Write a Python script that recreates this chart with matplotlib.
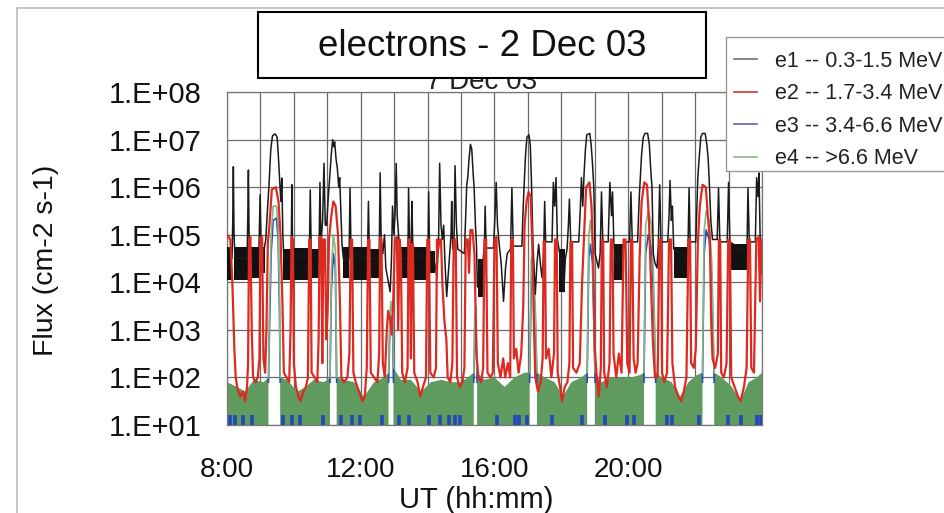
import numpy as np
import matplotlib.pyplot as plt
from matplotlib.lines import Line2D
from matplotlib.patches import Rectangle
from matplotlib.ticker import LogLocator, NullFormatter, MultipleLocator

plt.rcParams['font.family'] = ['Liberation Sans', 'DejaVu Sans']

# ---- data: time in hours UT, flux as log10(cm-2 s-1) ----
e1_t = [8.00, 8.15, 8.17, 8.19, 8.21, 8.24, 8.60, 8.62, 8.64, 8.66, 8.69, 8.95, 8.97, 8.99, 9.02,
        9.09, 9.16, 9.20, 9.26, 9.31, 9.36, 9.44, 9.50, 9.54, 9.57, 9.61, 9.64, 9.67, 9.70, 9.92,
        9.94, 9.96, 10.46, 10.49, 10.52, 10.75, 10.78, 10.81, 10.86, 10.90, 10.94, 10.98, 11.03,
        11.08, 11.12, 11.16, 11.19, 11.22, 11.26, 11.30, 11.34, 11.37, 11.40, 11.44, 11.48, 11.65,
        11.68, 11.71, 12.20, 12.23, 12.26, 12.55, 12.58, 12.61, 12.66, 12.71, 12.75, 12.83, 12.88,
        12.92, 12.95, 12.99, 13.03, 13.06, 13.09, 13.13, 13.18, 13.41, 13.43, 13.46, 13.51, 13.53,
        13.56, 14.01, 14.03, 14.06, 14.15, 14.24, 14.28, 14.33, 14.36, 14.40, 14.44, 14.48, 14.52,
        14.57, 14.62, 14.66, 14.70, 14.72, 14.75, 14.79, 14.82, 14.86, 14.90, 15.10, 15.14, 15.17,
        15.20, 15.24, 15.28, 15.32, 15.36, 15.39, 15.43, 15.46, 15.49, 15.55, 15.65, 15.70, 15.72,
        15.75, 15.97, 16.02, 16.05, 16.09, 16.14, 16.20, 16.27, 16.33, 16.38, 16.48, 16.52, 16.56,
        16.82, 16.86, 16.89, 16.93, 16.97, 17.03, 17.07, 17.11, 17.15, 17.19, 17.22, 17.27, 17.32,
        17.37, 17.42, 17.47, 17.50, 17.53, 17.72, 17.76, 17.80, 17.84, 17.88, 17.95, 18.02, 18.07,
        18.12, 18.17, 18.21, 18.24, 18.28, 18.52, 18.57, 18.60, 18.64, 18.68, 18.72, 18.76, 18.85,
        18.89, 18.93, 18.97, 19.01, 19.11, 19.16, 19.20, 19.24, 19.40, 19.45, 19.50, 19.53, 19.57,
        19.62, 19.78, 19.90, 20.04, 20.08, 20.12, 20.28, 20.33, 20.36, 20.40, 20.45, 20.50, 20.58,
        20.63, 20.67, 20.71, 20.75, 20.80, 20.86, 20.90, 20.94, 20.98, 21.18, 21.22, 21.25, 21.29,
        21.32, 21.36, 21.78, 21.82, 21.85, 22.02, 22.06, 22.08, 22.12, 22.17, 22.22, 22.30, 22.35,
        22.39, 22.43, 22.47, 22.52, 22.66, 22.70, 22.74, 22.96, 23.00, 23.04, 23.55, 23.58, 23.62,
        23.80, 23.84, 23.88, 23.91, 23.95, 24.00]
e1_v = [4.5, 4.5, 5.2, 6.43, 5.0, 4.5, 4.5, 5.3, 6.36, 5.0, 4.5, 4.5, 5.2, 5.84, 4.8,
        4.6, 4.9, 5.4, 6.1, 6.8, 7.08, 7.12, 7.05, 6.6, 6.2, 5.7, 6.19, 5.0, 4.5, 4.5,
        6.05, 4.6, 4.5, 5.94, 4.6, 4.5, 6.1, 4.8, 5.3, 6.5, 5.2, 5.2, 5.8,
        6.3, 6.7, 7.0, 6.85, 6.95, 6.6, 6.4, 6.0, 6.2, 5.6, 4.8, 4.5, 4.5,
        5.98, 4.6, 4.5, 5.7, 4.5, 4.5, 6.3, 4.9, 4.6, 5.0, 4.3, 4.0, 3.8,
        4.5, 5.6, 5.0, 5.5, 6.5, 5.4, 5.0, 4.5, 4.5, 5.98, 4.8, 4.8, 5.7,
        4.6, 4.5, 5.9, 4.6, 4.6, 4.3, 4.1, 5.0, 6.5, 5.2, 4.9, 5.2, 4.4,
        3.7, 4.2, 4.6, 5.0, 5.7, 4.7, 4.9, 6.45, 5.2, 4.7, 4.6, 5.4, 6.05,
        6.2, 6.6, 6.9, 6.8, 6.3, 6.0, 5.2, 4.8, 3.9, 4.4, 4.4, 4.8, 5.6,
        4.72, 4.72, 5.5, 6.1, 5.2, 4.8, 4.4, 3.6, 4.3, 4.6, 4.7, 5.98, 4.76,
        4.76, 5.6, 6.1, 6.7, 7.05, 7.1, 6.9, 6.0, 4.8, 4.2, 3.75, 4.4, 4.8,
        4.4, 4.1, 4.6, 5.7, 4.85, 4.85, 6.1, 5.6, 6.2, 4.9, 4.6, 4.2, 3.8,
        4.5, 4.7, 5.2, 5.75, 4.85, 4.85, 5.6, 6.2, 5.6, 6.3, 6.8, 7.1, 7.13,
        6.9, 6.5, 6.0, 4.6, 4.3, 4.6, 5.9, 4.85, 4.85, 6.1, 5.4, 5.9, 4.8,
        4.4, 4.5, 4.85, 4.85, 5.9, 4.85, 4.85, 5.8, 6.2, 6.7, 7.05, 7.13, 7.13,
        6.9, 6.4, 6.0, 4.6, 4.4, 4.3, 4.8, 6.05, 4.85, 4.85, 5.4, 6.14, 5.3,
        5.6, 4.7, 4.5, 5.98, 4.85, 4.85, 5.8, 6.2, 6.6, 7.05, 7.13, 7.13, 6.9,
        6.6, 6.0, 5.3, 4.9, 4.9, 5.98, 4.85, 4.85, 6.1, 4.85, 4.6, 5.98, 4.85,
        4.85, 6.2, 5.8, 6.3, 4.7, 4.3]

# spans where e1 is a dense noisy band: start, end, low, high (log10)
e1_noise_t0 = [8.00, 8.22, 8.67, 9.02, 9.68, 9.96, 10.52, 11.46, 11.71, 12.26, 13.15, 13.57, 14.06, 15.50, 17.92, 19.58, 21.36, 23.08]
e1_noise_t1 = [8.16, 8.62, 8.97, 9.15, 9.92, 10.46, 10.76, 11.66, 12.21, 12.56, 13.41, 14.01, 14.22, 15.68, 18.12, 19.88, 21.78, 23.54]
e1_noise_lo = [4.05, 4.05, 4.10, 4.20, 4.05, 4.05, 4.10, 4.10, 4.05, 4.10, 4.10, 4.05, 4.20, 3.70, 3.80, 4.05, 4.10, 4.25]
e1_noise_hi = [4.75, 4.75, 4.75, 4.75, 4.70, 4.72, 4.70, 4.75, 4.75, 4.70, 4.75, 4.75, 4.65, 4.50, 4.70, 4.80, 4.75, 4.80]

e2_t = [8.00, 8.10, 8.16, 8.22, 8.26, 8.32, 8.40, 8.48, 8.54, 8.60, 8.63, 8.66, 8.70, 8.74, 8.78,
        8.85, 8.92, 8.97, 9.00, 9.05, 9.09, 9.14, 9.18, 9.22, 9.28, 9.34, 9.46, 9.54, 9.60, 9.66,
        9.70, 9.78, 9.86, 9.90, 9.93, 9.97, 10.00, 10.06, 10.14, 10.20, 10.28, 10.36, 10.42, 10.46,
        10.50, 10.53, 10.62, 10.70, 10.74, 10.77, 10.82, 10.85, 10.88, 10.93, 10.97, 11.01, 11.05,
        11.12, 11.18, 11.25, 11.32, 11.38, 11.42, 11.50, 11.60, 11.66, 11.70, 11.74, 11.78, 11.85,
        11.95, 12.05, 12.12, 12.18, 12.22, 12.26, 12.30, 12.40, 12.50, 12.55, 12.58, 12.62, 12.66,
        12.72, 12.78, 12.82, 12.88, 12.93, 12.97, 13.02, 13.08, 13.12, 13.16, 13.20, 13.24, 13.32,
        13.40, 13.43, 13.47, 13.50, 13.53, 13.56, 13.60, 13.70, 13.78, 13.86, 13.95, 13.99, 14.04,
        14.08, 14.18, 14.25, 14.28, 14.32, 14.36, 14.40, 14.44, 14.50, 14.56, 14.60, 14.68, 14.74,
        14.78, 14.84, 14.88, 14.96, 15.04, 15.10, 15.14, 15.20, 15.24, 15.28, 15.34, 15.40, 15.46,
        15.52, 15.60, 15.66, 15.70, 15.75, 15.79, 15.88, 15.95, 16.00, 16.06, 16.10, 16.18, 16.26,
        16.32, 16.40, 16.47, 16.50, 16.55, 16.58, 16.65, 16.72, 16.80, 16.86, 16.90, 16.96, 17.02,
        17.08, 17.13, 17.18, 17.22, 17.30, 17.38, 17.44, 17.47, 17.51, 17.54, 17.62, 17.70, 17.78,
        17.81, 17.86, 17.89, 17.96, 18.02, 18.10, 18.18, 18.24, 18.27, 18.32, 18.35, 18.45, 18.55,
        18.62, 18.68, 18.74, 18.84, 18.90, 18.95, 19.00, 19.06, 19.12, 19.18, 19.21, 19.25, 19.28,
        19.36, 19.44, 19.48, 19.53, 19.56, 19.64, 19.72, 19.80, 19.86, 19.92, 19.97, 20.04, 20.08,
        20.12, 20.16, 20.22, 20.28, 20.34, 20.40, 20.48, 20.56, 20.62, 20.68, 20.74, 20.80, 20.88,
        20.93, 20.98, 21.01, 21.08, 21.16, 21.22, 21.28, 21.32, 21.40, 21.50, 21.58, 21.66, 21.74,
        21.80, 21.85, 21.88, 21.96, 22.02, 22.08, 22.14, 22.22, 22.32, 22.38, 22.44, 22.48, 22.52,
        22.60, 22.68, 22.71, 22.75, 22.78, 22.86, 22.94, 22.99, 23.04, 23.08, 23.18, 23.28, 23.36,
        23.46, 23.54, 23.59, 23.64, 23.68, 23.76, 23.83, 23.90, 23.94, 23.98, 24.00]
e2_v = [5.0, 4.9, 4.0, 2.6, 2.0, 1.75, 1.6, 1.7, 1.5, 1.8, 2.3, 4.9, 4.95, 3.0, 2.0,
        1.9, 2.0, 2.4, 4.95, 4.95, 2.4, 2.1, 3.0, 4.8, 5.3, 5.95, 6.0, 5.7, 5.0, 3.5,
        2.1, 2.0, 1.9, 3.0, 4.95, 4.9, 2.3, 1.8, 1.6, 1.5, 1.7, 1.8, 2.0, 4.9,
        4.9, 2.1, 2.0, 1.9, 2.8, 4.95, 4.95, 2.3, 4.9, 4.9, 2.8, 3.4, 4.9,
        5.4, 5.7, 5.6, 5.0, 3.5, 2.0, 1.9, 2.0, 2.5, 4.9, 4.9, 2.1, 1.9,
        1.7, 1.5, 1.6, 2.2, 4.9, 4.9, 2.1, 2.0, 1.9, 2.5, 4.95, 4.9, 2.3,
        2.0, 3.0, 3.4, 3.2, 2.9, 3.6, 4.9, 4.95, 3.0, 4.9, 4.6, 2.1, 1.9,
        2.2, 4.9, 4.9, 2.4, 4.8, 4.8, 2.1, 1.9, 1.6, 1.8, 2.0, 4.9, 4.9,
        2.1, 2.0, 2.2, 4.9, 4.7, 4.9, 4.9, 4.0, 3.2, 2.8, 2.0, 1.9, 2.3,
        4.9, 4.9, 2.0, 1.8, 1.9, 2.2, 4.9, 4.9, 4.2, 5.1, 5.1, 4.6, 2.5,
        2.0, 1.9, 2.2, 4.9, 4.9, 2.1, 2.0, 2.1, 4.9, 4.95, 2.3, 2.0, 2.4,
        2.0, 2.3, 2.0, 4.9, 4.9, 2.4, 2.6, 2.1, 2.5, 3.5, 5.2, 5.7, 5.9,
        5.8, 4.8, 3.1, 2.0, 1.7, 1.9, 2.4, 4.85, 4.85, 2.4, 2.6, 2.0, 2.5,
        4.9, 4.9, 2.1, 1.8, 1.5, 1.8, 1.9, 2.3, 4.85, 4.85, 2.2, 2.1, 2.3,
        4.0, 5.0, 6.0, 6.1, 5.6, 4.6, 2.6, 2.0, 1.6, 2.2, 4.9, 4.9, 2.1,
        1.8, 2.3, 4.9, 4.9, 2.5, 2.0, 2.5, 2.1, 4.9, 4.9, 2.3, 2.1, 4.9,
        4.9, 2.4, 2.1, 2.3, 4.5, 5.7, 6.1, 6.05, 5.3, 4.0, 2.7, 2.0, 2.0,
        4.9, 4.9, 2.1, 1.9, 2.1, 4.9, 4.9, 2.3, 1.8, 1.6, 1.5, 1.7, 2.0,
        4.9, 4.9, 2.3, 2.2, 2.6, 4.8, 5.6, 6.05, 6.0, 5.4, 4.9, 3.2, 2.4,
        2.2, 2.5, 4.9, 4.9, 2.1, 2.0, 2.3, 4.9, 4.9, 2.0, 1.8, 1.6, 1.5,
        1.8, 2.2, 4.9, 4.9, 2.2, 2.1, 4.9, 4.95, 3.6, 4.9, 4.2]

# e3 / e4 are only resolved where they climb out of the 10-100 floor
gap_t0 = [9.24, 11.08, 12.83, 15.38, 17.05, 18.77, 20.47, 22.22]
gap_t1 = [9.59, 11.28, 12.98, 15.48, 17.27, 19.01, 20.82, 22.57]

e3_t = [9.24, 9.27, 9.32, 9.38, 9.48, 9.53, 9.57, 9.59, np.nan,
        11.08, 11.12, 11.18, 11.24, 11.28, np.nan,
        12.83, 12.87, 12.90, 12.95, 12.98, np.nan,
        15.38, 15.41, 15.44, 15.48, np.nan,
        17.05, 17.10, 17.15, 17.22, 17.27, np.nan,
        18.77, 18.82, 18.87, 18.93, 19.01, np.nan,
        20.47, 20.52, 20.60, 20.70, 20.76, 20.82, np.nan,
        22.22, 22.27, 22.33, 22.42, 22.50, 22.57]
e3_v = [1.9, 3.0, 4.6, 5.3, 5.35, 4.9, 3.4, 1.9, np.nan,
        1.9, 3.8, 4.6, 4.3, 1.9, np.nan,
        1.9, 3.0, 3.3, 3.1, 1.9, np.nan,
        1.9, 3.0, 3.2, 1.9, np.nan,
        1.9, 4.0, 4.2, 3.2, 1.9, np.nan,
        1.9, 4.5, 4.8, 4.4, 1.9, np.nan,
        1.9, 4.6, 5.0, 4.7, 3.6, 1.9, np.nan,
        1.9, 4.6, 5.1, 4.9, 4.0, 1.9]
# times where e3 drops to the bottom of the scale
e3_low_t = [8.09, 8.24, 8.49, 8.76, 9.66, 9.94, 10.19, 10.86, 11.40, 11.73, 11.98, 12.63, 13.13,
            13.43, 14.03, 14.38, 14.63, 14.83, 14.98, 16.07, 16.62, 16.72, 16.97, 17.72, 18.62,
            19.31, 19.96, 20.17, 21.17, 21.32, 22.12, 22.97, 23.36, 23.86, 23.98]

e4_t = [8.00, 8.30, 8.55, 8.80, 9.10, 9.24, 9.27, 9.32, 9.38, 9.48, 9.53, 9.57, 9.59,
        9.80, 10.10, 10.35, 10.60, 10.90, 11.08, 11.12, 11.18, 11.24, 11.28,
        11.50, 11.80, 12.10, 12.40, 12.70, 12.83, 12.87, 12.90, 12.95, 12.98,
        13.20, 13.50, 13.80, 14.10, 14.40, 14.70, 15.00, 15.20, 15.38, 15.41, 15.44, 15.48,
        15.70, 16.00, 16.30, 16.60, 16.90, 17.05, 17.10, 17.15, 17.22, 17.27,
        17.50, 17.80, 18.05, 18.30, 18.60, 18.77, 18.82, 18.87, 18.93, 19.01,
        19.20, 19.50, 19.80, 20.10, 20.35, 20.47, 20.52, 20.60, 20.70, 20.76, 20.82,
        21.00, 21.30, 21.55, 21.80, 22.05, 22.22, 22.27, 22.33, 22.42, 22.50, 22.57,
        22.80, 23.10, 23.35, 23.60, 23.85, 24.00]
e4_v = [1.9, 1.8, 1.7, 1.95, 1.9, 2.0, 3.5, 5.0, 5.6, 5.6, 5.2, 3.8, 2.0,
        1.95, 1.7, 1.8, 1.95, 1.9, 2.0, 4.2, 5.0, 4.7, 2.0,
        1.95, 1.9, 1.6, 1.9, 2.0, 2.1, 3.3, 3.6, 3.3, 2.2,
        1.95, 1.95, 1.7, 1.9, 1.95, 1.9, 1.9, 2.0, 2.1, 3.2, 3.5, 2.1,
        1.95, 2.0, 1.8, 2.0, 2.1, 2.1, 4.5, 4.6, 3.5, 2.1,
        2.0, 1.9, 1.6, 1.9, 2.0, 2.1, 5.0, 5.3, 4.8, 2.1,
        1.9, 2.0, 2.0, 2.0, 2.05, 2.1, 5.2, 5.5, 5.2, 4.0, 2.1,
        2.0, 1.9, 1.6, 1.9, 2.05, 2.1, 5.1, 5.5, 5.3, 4.4, 2.1,
        2.0, 1.8, 1.5, 1.9, 2.0, 2.1]

labels = ['e1 -- 0.3-1.5 MeV', 'e2 -- 1.7-3.4 MeV', 'e3 -- 3.4-6.6 MeV', 'e4 -- >6.6 MeV']
hour_ticks = [8, 12, 16, 20]
decades = [1, 2, 3, 4, 5, 6, 7, 8]

W, H = 945, 513
fig = plt.figure(figsize=(W / 100, H / 100), dpi=100)
ax = fig.add_axes([227 / W, 1 - 425 / H, 535 / W, 333 / H])

e4_t = np.array(e4_t)
e4_v = np.array(e4_v)
in_gap = np.zeros(len(e4_t), bool)
edge_gap = np.zeros(len(e4_t), bool)
for a, b in zip(gap_t0, gap_t1):
    in_gap |= (e4_t > a) & (e4_t < b)
    edge_gap |= (e4_t >= a) & (e4_t <= b)

ax.fill_between(e4_t, 10, 10 ** e4_v, where=~in_gap, color='#5f9a5f', lw=0, zorder=2)
ax.plot(e3_t, 10 ** np.array(e3_v), color='#2548b8', lw=1.2, zorder=2.4)
ax.plot(e4_t, np.where(edge_gap, 10 ** e4_v, np.nan), color='#86b486', lw=1.2, zorder=2.5)
ax.vlines(e3_low_t, 10, 10 ** 1.22, colors='#2548b8', lw=2.6, zorder=2.6)

for t0, t1, lo, hi in zip(e1_noise_t0, e1_noise_t1, e1_noise_lo, e1_noise_hi):
    ax.fill_between([t0, t1], 10 ** lo, 10 ** hi, color='#111111', lw=0, zorder=3)
ax.plot(e1_t, 10 ** np.array(e1_v), color='#1a1a1a', lw=1.1, zorder=3)
ax.plot(e2_t, 10 ** np.array(e2_v), color='#dd2a20', lw=1.6, zorder=3.5)

ax.set_yscale('log')
ax.set_ylim(10, 1e8)
ax.set_xlim(8, 24)
ax.set_yticks([10 ** d for d in decades])
ax.set_yticklabels(['1.E+%02d' % d for d in decades])
ax.yaxis.set_minor_locator(LogLocator(base=10, subs=np.arange(2, 10)))
ax.yaxis.set_minor_formatter(NullFormatter())
ax.set_xticks(hour_ticks)
ax.set_xticklabels(['%d:00' % h for h in hour_ticks])
ax.xaxis.set_minor_locator(MultipleLocator(1))
ax.grid(True, which='major', axis='y', color='#6a6a6a', lw=0.9, zorder=1)
ax.grid(True, which='both', axis='x', color='#6a6a6a', lw=0.9, zorder=1)
ax.set_axisbelow(True)
ax.tick_params(axis='x', which='both', length=0, labelsize=20, pad=23, colors='#111111')
ax.tick_params(axis='y', which='major', length=0, labelsize=21, pad=18, colors='#111111')
ax.tick_params(axis='y', which='minor', direction='in', length=5, color='#888888', width=0.8)
for s in ax.spines.values():
    s.set_color('#777777')
    s.set_linewidth(0.9)

ax.set_xlabel('UT (hh:mm)', fontsize=21, color='#111111', va='center')
ax.xaxis.set_label_coords(0.465, -0.226)
ax.set_ylabel('Flux (cm-2 s-1)', fontsize=20.5, color='#111111', va='center')
ax.yaxis.set_label_coords(-0.339, 0.495)

# outer frame of the original sheet
fig.add_artist(Line2D([17 / W, 17 / W], [0, 1 - 8 / H], color='#bbbbbb', lw=1.2))
fig.add_artist(Line2D([17 / W, 1], [1 - 8 / H, 1 - 8 / H], color='#bbbbbb', lw=1.2))

# original title, mostly hidden behind the pasted title box
fig.text(482 / W, 1 - 89 / H, '7 Dec 03', ha='center', va='baseline', fontsize=20,
         color='#222222', zorder=4)
fig.add_artist(Rectangle((258 / W, 1 - 78 / H), (706 - 258) / W, (78 - 12) / H,
                         facecolor='white', edgecolor='black', lw=1.5, zorder=5))
fig.text(482 / W, 1 - 46 / H, 'electrons - 2 Dec 03', ha='center', va='center',
         fontsize=26.5, color='#111111', zorder=6)

# legend box runs off the right edge of the sheet
fig.add_artist(Rectangle((726 / W, 1 - 171 / H), 230 / W, (171 - 37) / H,
                         facecolor='white', edgecolor='#999999', lw=1.0, zorder=5))
handles = [Line2D([], [], color='#6d6d6d', lw=1.2),
           Line2D([], [], color='#d23a2a', lw=1.2),
           Line2D([], [], color='#5b5fb5', lw=1.2),
           Line2D([], [], color='#8fb48a', lw=1.2)]
leg = fig.legend(handles, labels, loc='upper left', bbox_to_anchor=(726 / W, 1 - 43 / H),
                 fontsize=15.5, frameon=False, borderpad=0.35, handlelength=1.07,
                 handletextpad=0.85, labelspacing=0.54, borderaxespad=0)
leg.set_zorder(6)
for t in leg.get_texts():
    t.set_color('#222222')

fig.savefig('out.png', dpi=100)
